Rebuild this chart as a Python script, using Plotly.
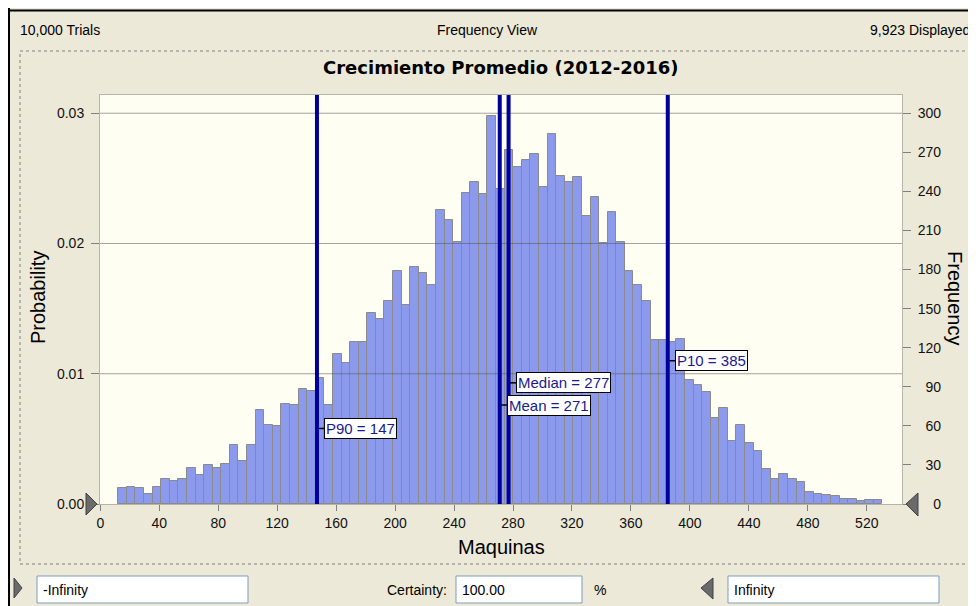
import numpy as np
import plotly.graph_objects as go

# histogram (counts per bin)
trials = 10000
displayed = 9923
bin_start = 12.2
bin_width = 5.825
counts = [12, 13, 12, 8, 13, 19, 18, 19, 28, 22,
          30, 28, 31, 45, 33, 45, 72, 61, 60, 77,
          76, 88, 87, 97, 76, 115, 108, 124, 124, 147,
          142, 156, 179, 153, 182, 177, 168, 226, 218, 201,
          239, 247, 238, 298, 242, 272, 259, 264, 269, 243,
          284, 252, 247, 251, 221, 236, 200, 224, 201, 179,
          168, 156, 126, 126, 124, 127, 95, 91, 86, 66,
          74, 48, 61, 47, 41, 27, 19, 23, 19, 17,
          9, 8, 7, 6, 4, 4, 2, 3, 3]

stat_names = ["P90", "Mean", "Median", "P10"]
stat_values = [147, 271, 277, 385]

x_ticks = list(range(0, 521, 40))
prob_ticks = [0.00, 0.01, 0.02, 0.03]
freq_ticks = list(range(0, 301, 30))

# the page body has an 8px margin, so the figure sits at (8, 8)
OFF = 8
FIG_W, FIG_H = 976 - OFF, 606 - OFF
L, R, T, B = 100 - OFF, 74, 95 - OFF, 102
W, H = FIG_W - L - R, FIG_H - T - B


# page pixel -> paper coords
def fx(p):
    return (p - 100) / W


def fy(p):
    return (504 - p) / H


centers = bin_start + bin_width * (np.arange(len(counts)) + 0.5)

FONT = "Liberation Sans, Arial, sans-serif"
NAVY = "#000099"

fig = go.Figure()
fig.add_trace(go.Bar(
    x=centers, y=counts, width=bin_width, yaxis="y2",
    marker=dict(color="#8C9AEE", line=dict(color="#8A8A8A", width=1)),
    showlegend=False, hoverinfo="x+y",
))

shapes = []
annotations = []

# window chrome
shapes.append(dict(type="line", xref="paper", yref="paper", x0=fx(8), x1=fx(980), y0=fy(10.5), y1=fy(10.5),
                   line=dict(color="black", width=2)))
shapes.append(dict(type="line", xref="paper", yref="paper", x0=fx(9), x1=fx(9), y0=fy(8), y1=fy(610),
                   line=dict(color="black", width=2)))
shapes.append(dict(type="rect", xref="paper", yref="paper", x0=fx(20), x1=fx(974), y0=fy(51), y1=fy(564),
                   line=dict(color="#808080", width=1, dash="dot"), layer="below"))

# grid lines drawn over the bars
for v in prob_ticks[1:]:
    shapes.append(dict(type="line", xref="paper", yref="y", x0=0, x1=1, y0=v, y1=v,
                       line=dict(color="rgba(90,90,90,0.55)", width=1), layer="above"))

# statistic markers
label_y = {"P90": 58, "Mean": 76, "Median": 93, "P10": 110}
for name, val in zip(stat_names, stat_values):
    shapes.append(dict(type="line", xref="x", yref="y2", x0=val, x1=val + 6, y0=label_y[name], y1=label_y[name],
                       line=dict(color="black", width=1.5)))
for name, val in zip(stat_names, stat_values):
    shapes.append(dict(type="line", xref="x", yref="paper", x0=val, x1=val, y0=0, y1=1,
                       line=dict(color=NAVY, width=4)))
for name, val in zip(stat_names, stat_values):
    annotations.append(dict(x=val, y=label_y[name], xref="x", yref="y2", xanchor="left", yanchor="middle",
                            xshift=7, text=f"{name} = {val}", showarrow=False,
                            font=dict(family=FONT, size=15, color="#1A1A8C"),
                            bgcolor="white", bordercolor="black", borderwidth=1, borderpad=1))

# axis end triangles
tri = "#6A6A6A"
shapes.append(dict(type="path", xref="paper", yref="paper",
                   path=f"M {fx(86)} {fy(493)} L {fx(97)} {fy(504)} L {fx(86)} {fy(515)} Z",
                   fillcolor=tri, line=dict(color="#404040", width=1)))
shapes.append(dict(type="path", xref="paper", yref="paper",
                   path=f"M {fx(918)} {fy(493)} L {fx(906)} {fy(504)} L {fx(918)} {fy(516)} Z",
                   fillcolor=tri, line=dict(color="#404040", width=1)))

# bottom controls
shapes.append(dict(type="path", xref="paper", yref="paper",
                   path=f"M {fx(14)} {fy(578)} L {fx(22)} {fy(588)} L {fx(14)} {fy(598)} Z",
                   fillcolor=tri, line=dict(color="#404040", width=1)))
shapes.append(dict(type="path", xref="paper", yref="paper",
                   path=f"M {fx(713)} {fy(578)} L {fx(701)} {fy(588)} L {fx(713)} {fy(599)} Z",
                   fillcolor=tri, line=dict(color="#404040", width=1)))
for x0, x1 in [(37, 248), (456, 582), (728, 939)]:
    shapes.append(dict(type="rect", xref="paper", yref="paper", x0=fx(x0), x1=fx(x1), y0=fy(576), y1=fy(603),
                       fillcolor="white", line=dict(color="#7F9DB9", width=1)))


def text(px, py, s, size=15, anchor="left", **kw):
    annotations.append(dict(x=fx(px), y=fy(py), xref="paper", yref="paper", xanchor=anchor, yanchor="middle",
                            text=s, showarrow=False, font=dict(family=FONT, size=size, color="black"), **kw))


text(18, 30, f"{trials:,} Trials", 14)
text(487, 30, "Frequency View", 14, "center")
text(868, 30, f"{displayed:,} Displayed", 14)
annotations.append(dict(x=fx(501), y=fy(68), xref="paper", yref="paper", xanchor="center", yanchor="middle",
                        text="<b>Crecimiento Promedio (2012-2016)</b>", showarrow=False,
                        font=dict(family="DejaVu Sans, sans-serif", size=18, color="black")))
text(38, 298, "Probability", 20, "center", textangle=-90)
text(955, 298, "Frequency", 20, "center", textangle=90)
text(501, 547, "Maquinas", 20, "center")
text(41, 590, "-Infinity", 14)
text(385, 590, "Certainty:", 14)
text(460, 590, "100.00", 14)
text(592, 590, "%", 14)
text(732, 590, "Infinity", 14)

fig.update_layout(
    width=FIG_W, height=FIG_H, autosize=False,
    margin=dict(l=L, r=R, t=T, b=B),
    paper_bgcolor="#ECE9D8", plot_bgcolor="#FEFEF2",
    font=dict(family=FONT, size=15, color="#111111"),
    shapes=shapes, annotations=annotations,
    bargap=0,
    xaxis=dict(range=[-0.2, 543.9], tickvals=x_ticks, ticks="outside", ticklen=6, tickcolor="#808080",
               showgrid=False, zeroline=False, showline=True, mirror=True, linecolor="#B4B4A8",
               tickfont=dict(size=14)),
    yaxis=dict(range=[0, 0.0314], tickvals=prob_ticks, tickformat=".2f", ticks="outside", ticklen=8,
               tickcolor="#808080", showgrid=False, zeroline=False, showline=True, mirror=True,
               linecolor="#B4B4A8", ticklabelstandoff=4, tickfont=dict(size=14)),
    yaxis2=dict(range=[0, 314], overlaying="y", side="right", tickvals=freq_ticks,
                ticktext=[str(v).rjust(3, "\u2007") for v in freq_ticks],
                ticks="outside", ticklen=8, tickcolor="#808080", showgrid=False, zeroline=False,
                showline=False, ticklabelstandoff=4, tickfont=dict(size=14)),
)

fig.write_html("out.html")
